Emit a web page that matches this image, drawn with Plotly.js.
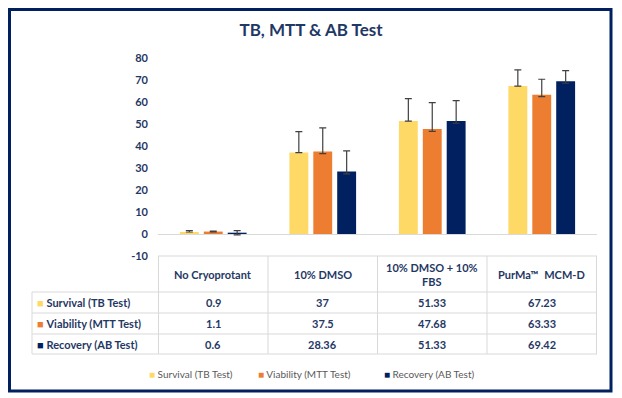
<!DOCTYPE html>
<html><head><meta charset="utf-8">
<script src="https://cdn.plot.ly/plotly-3.0.1.min.js"></script>
<style>html,body{margin:0;padding:0;background:#fff;} #chart{width:622px;height:398px;}</style>
</head><body><div id="chart"></div>
<script>
// ---- data ----
const categories = ['No Cryoprotant', '10% DMSO', '10% DMSO + 10% FBS', 'PurMa™ MCM-D'];
const headerLabels = ['No Cryoprotant', '10% DMSO', '10% DMSO + 10%<br>FBS', 'PurMa™\u00A0 MCM-D'];
const seriesNames = ['Survival (TB Test)', 'Viability (MTT Test)', 'Recovery (AB Test)'];
const survival = [0.9, 37, 51.33, 67.23];
const viability = [1.1, 37.5, 47.68, 63.33];
const recovery = [0.6, 28.36, 51.33, 69.42];
const survivalErrPlus = [0.7, 9.5, 10.2, 7.4];
const survivalErrMinus = [0, 0, 0, 0];
const viabilityErrPlus = [0.2, 10.7, 12.0, 7.0];
const viabilityErrMinus = [0.2, 1.0, 1.0, 0.9];
const recoveryErrPlus = [0.9, 9.4, 9.3, 4.8];
const recoveryErrMinus = [1.0, 1.0, 1.0, 0.9];
const yTickVals = [-10, 0, 10, 20, 30, 40, 50, 60, 70, 80];

// ---- style ----
const W = 622, H = 398;
const PX = v => v / W;
const PY = v => (H - v) / H;
const colors = ['#FFD966', '#ED7D31', '#002060'];
const navyText = '#1F3864';
const gridCol = '#D9D9D9';
const FONT = 'Lato, "Open Sans", sans-serif';

const values = [survival, viability, recovery];
const errPlus = [survivalErrPlus, viabilityErrPlus, recoveryErrPlus];
const errMinus = [survivalErrMinus, viabilityErrMinus, recoveryErrMinus];

const traces = seriesNames.map((name, s) => ({
  type: 'bar',
  name: name,
  x: categories,
  y: values[s],
  marker: {color: colors[s]},
  error_y: {type: 'data', symmetric: false, array: errPlus[s], arrayminus: errMinus[s],
            color: '#404040', thickness: 1.2, width: 3.5},
  showlegend: false,
  hoverinfo: 'none'
}));

// table layout (pixel rows)
const tableTop = 256, headerBottom = 292, rowBottoms = [313, 334, 354];
const rowCenters = [302.5, 323.5, 344];
const tableLeft = 32, axisLeft = 158, axisRight = 597;

const shapes = [];
// frame
shapes.push({type: 'rect', xref: 'paper', yref: 'paper', x0: PX(9.5), x1: PX(611), y0: PY(391), y1: PY(9.5),
  line: {color: '#002060', width: 3}, fillcolor: 'rgba(0,0,0,0)'});
// horizontal table lines
shapes.push({type: 'line', xref: 'paper', yref: 'paper', x0: PX(axisLeft), x1: PX(axisRight), y0: PY(tableTop), y1: PY(tableTop), line: {color: gridCol, width: 1}});
[headerBottom].concat(rowBottoms).forEach(py => {
  shapes.push({type: 'line', xref: 'paper', yref: 'paper', x0: PX(tableLeft), x1: PX(axisRight), y0: PY(py), y1: PY(py), line: {color: gridCol, width: 1}});
});
// vertical table lines
shapes.push({type: 'line', xref: 'paper', yref: 'paper', x0: PX(tableLeft), x1: PX(tableLeft), y0: PY(rowBottoms[2]), y1: PY(headerBottom), line: {color: gridCol, width: 1}});
for (let i = 0; i <= categories.length; i++) {
  shapes.push({type: 'line', xref: 'x', yref: 'paper', x0: i - 0.5, x1: i - 0.5, y0: PY(rowBottoms[2]), y1: PY(tableTop), line: {color: gridCol, width: 1}});
}

const annotations = [];
const tFont = {family: FONT, size: 11, color: navyText};
categories.forEach((c, i) => {
  annotations.push({xref: 'x', yref: 'paper', x: c, y: PY(274), text: '<b>' + headerLabels[i] + '</b>',
    showarrow: false, font: tFont, align: 'center', xanchor: 'center', yanchor: 'middle'});
});
seriesNames.forEach((name, s) => {
  annotations.push({xref: 'paper', yref: 'paper', x: PX(35), y: PY(rowCenters[s]), xanchor: 'left', yanchor: 'middle',
    text: '<span style="color:' + colors[s] + '">■</span> <b>' + name + '</b>', showarrow: false, font: tFont});
  categories.forEach((c, i) => {
    annotations.push({xref: 'x', yref: 'paper', x: c, y: PY(rowCenters[s]), xanchor: 'center', yanchor: 'middle',
      text: '<b>' + String(values[s][i]) + '</b>', showarrow: false, font: tFont});
  });
});
// legend
const legendX = [147, 256, 382];
seriesNames.forEach((name, s) => {
  annotations.push({xref: 'paper', yref: 'paper', x: PX(legendX[s]), y: PY(374), xanchor: 'left', yanchor: 'middle',
    text: '<span style="color:' + colors[s] + '">■</span> ' + name, showarrow: false,
    font: {family: FONT, size: 10, color: '#595959'}});
});

const layout = {
  width: W, height: H,
  margin: {l: 0, r: 0, t: 0, b: 0},
  paper_bgcolor: '#ffffff', plot_bgcolor: '#ffffff',
  title: {text: 'TB, MTT &amp; AB Test', x: 0.5, xanchor: 'center', y: PY(30), yanchor: 'middle',
          font: {family: FONT, size: 17, color: navyText, weight: 'bold'}},
  barmode: 'group', bargap: 0.345, bargroupgap: 0.21,
  showlegend: false, hovermode: false,
  xaxis: {domain: [PX(axisLeft), PX(axisRight)], type: 'category', showticklabels: false, showgrid: false,
          showline: false, zeroline: false, ticks: '', fixedrange: true},
  yaxis: {domain: [PY(tableTop), PY(58)], range: [-10, 80], tickvals: yTickVals, ticktext: yTickVals.map(String),
          showgrid: false, showline: false, zeroline: true, zerolinecolor: gridCol, zerolinewidth: 1,
          ticks: '', ticklabelstandoff: 9, tickfont: {family: FONT, size: 11, color: navyText, weight: 'bold'}, fixedrange: true},
  shapes: shapes,
  annotations: annotations
};

Plotly.newPlot('chart', traces, layout, {displayModeBar: false, staticPlot: true});
</script>
</body></html>
